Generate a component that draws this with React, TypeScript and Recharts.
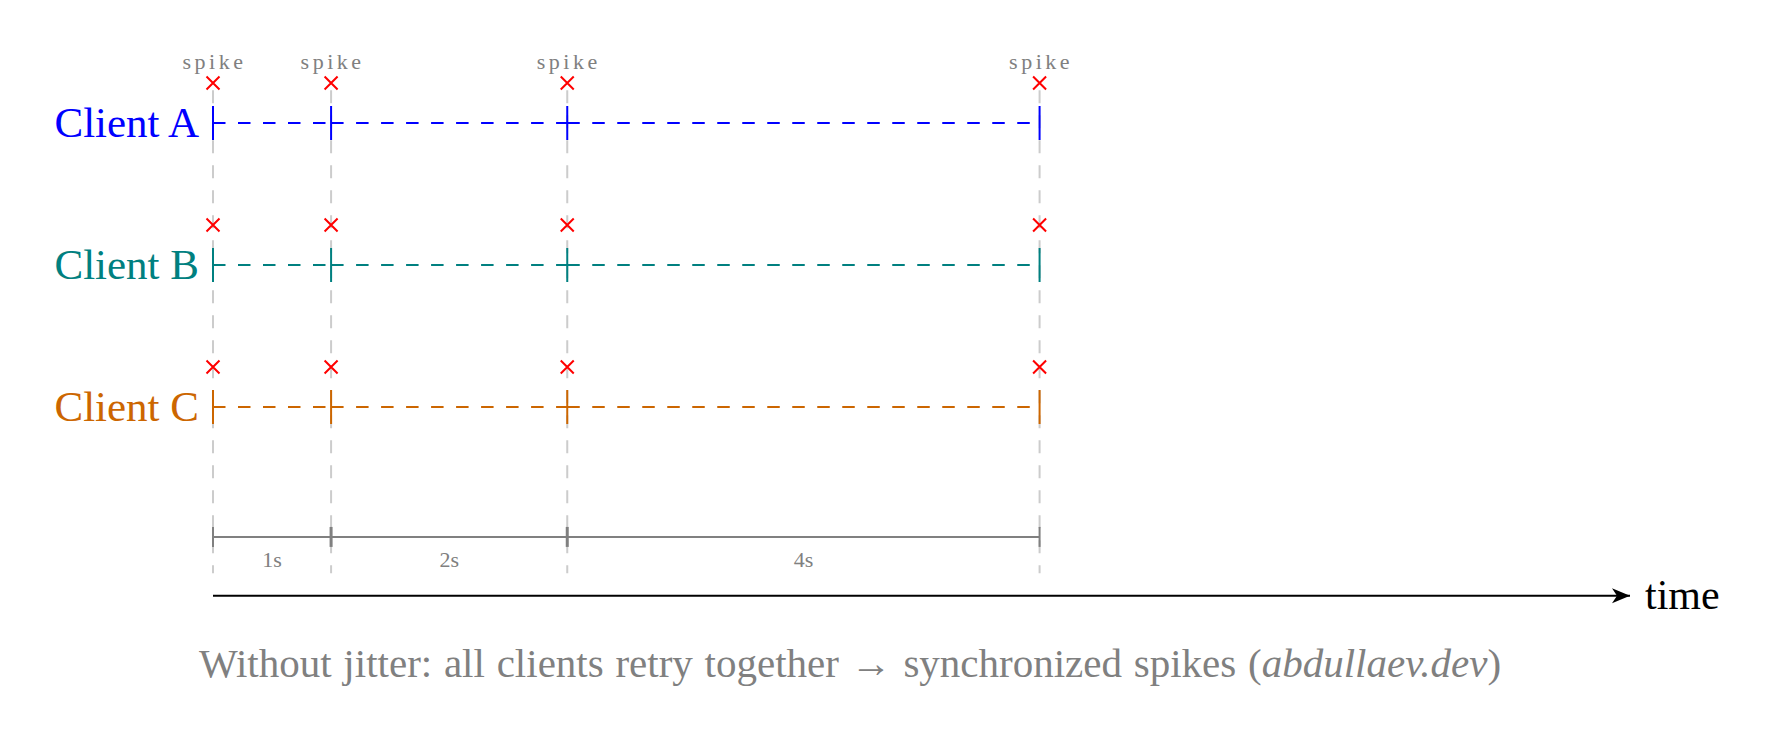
import React from 'react'
import { ComposedChart, Line, Scatter, XAxis, YAxis, ReferenceLine } from 'recharts'

// retry moments (seconds) shared by every client: no jitter
const retryTimes = [0, 1, 3, 7]
const clients = ['Client A', 'Client B', 'Client C']
const clientRows = [3, 2, 1]
const clientColors = ['#0000ff', '#008080', '#cc6600']
const spikeLabel = 'spike'
const timeLabel = 'time'
const axisEnd = 12
const caption = 'Without jitter: all clients retry together \u2192 synchronized spikes ('
const captionSite = 'abdullaev.dev'

// layout (in y-axis units)
const GUIDE_TOP = 3.23
const GUIDE_BOTTOM = -0.17
const BRACKET_Y = 0.085
const AXIS_Y = -0.33

const FONT = '"Liberation Serif", "Times New Roman", serif'
const GRAY = '#808080'

const ClientMark = (props: any) => {
    const { cx, cy, color, top } = props
    const xc = cy - 40
    return (
        <g>
            <line x1={cx} x2={cx} y1={cy - 17} y2={cy + 17} stroke={color} strokeWidth={2} />
            <path
                d={`M${cx - 6.5},${xc - 6.5}L${cx + 6.5},${xc + 6.5}M${cx + 6.5},${xc - 6.5}L${cx - 6.5},${xc + 6.5}`}
                stroke="#ff0000"
                strokeWidth={2}
                fill="none"
            />
            {top && (
                <text x={cx + 1.5} y={cy - 54} textAnchor="middle" fontFamily={FONT} fontSize={22} letterSpacing={3.5} fill={GRAY}>
                    {spikeLabel}
                </text>
            )}
        </g>
    )
}

const BracketTick = (props: any) => {
    const { cx, cy, index } = props
    const inner = index > 0 && index < retryTimes.length - 1
    return <line key={index} x1={cx} x2={cx} y1={cy - 10} y2={cy + 10} stroke={GRAY} strokeWidth={inner ? 3 : 2} />
}

const GapLabel = (props: any) => {
    const { cx, cy, payload } = props
    return (
        <text x={cx} y={cy + 30} textAnchor="middle" fontFamily={FONT} fontSize={22} fill={GRAY}>
            {payload.label}
        </text>
    )
}

const AxisArrow = (props: any) => {
    const { cx, cy, index } = props
    if (index === 0) return <g key={index} />
    return (
        <g key={index}>
            <path d={`M${cx},${cy}L${cx - 18},${cy - 7.5}L${cx - 13},${cy}L${cx - 18},${cy + 7.5}Z`} fill="#000" />
            <text x={cx + 15} y={cy + 13} fontFamily={FONT} fontSize={42} fill="#000">
                {timeLabel}
            </text>
        </g>
    )
}

const ClientTick = (props: any) => {
    const { x, y, payload } = props
    const i = clientRows.indexOf(payload.value)
    return (
        <text x={x} y={y + 14} textAnchor="end" fontFamily={FONT} fontSize={43} fill={clientColors[i]}>
            {clients[i]}
        </text>
    )
}

const gaps = retryTimes.slice(1).map((t, i) => ({
    t: (t + retryTimes[i]) / 2,
    v: BRACKET_Y,
    label: `${t - retryTimes[i]}s`,
}))

const App = () => {
    return (
        <div style={{ position: 'absolute', left: 0, top: 0, width: 1774, height: 741, background: '#fff' }}>
            <ComposedChart width={1774} height={741} margin={{ top: 52, right: 144, bottom: 121, left: 0 }}>
                <XAxis type="number" dataKey="t" domain={[0, axisEnd]} hide />
                <YAxis
                    type="number"
                    dataKey="v"
                    domain={[-0.5, 3.5]}
                    ticks={clientRows}
                    width={213}
                    axisLine={false}
                    tickLine={false}
                    tickSize={0}
                    tickMargin={14}
                    tick={ClientTick}
                />
                {retryTimes.map((t) => (
                    <ReferenceLine
                        key={`g${t}`}
                        segment={[{ x: t, y: GUIDE_TOP }, { x: t, y: GUIDE_BOTTOM }]}
                        stroke="#cccccc"
                        strokeWidth={2}
                        strokeDasharray="13 12"
                    />
                ))}
                {clients.map((c, ci) =>
                    retryTimes.slice(1).map((t, i) => (
                        <Line
                            key={`${c}-${t}`}
                            data={[{ t: retryTimes[i], v: clientRows[ci] }, { t, v: clientRows[ci] }]}
                            dataKey="v"
                            stroke={clientColors[ci]}
                            strokeWidth={2}
                            strokeDasharray="12.5 12.5"
                            dot={false}
                            activeDot={false}
                            isAnimationActive={false}
                        />
                    ))
                )}
                {clients.map((c, ci) => (
                    <Scatter
                        key={`m-${c}`}
                        data={retryTimes.map((t) => ({ t, v: clientRows[ci] }))}
                        shape={(p: any) => <ClientMark {...p} color={clientColors[ci]} top={ci === 0} />}
                        isAnimationActive={false}
                    />
                ))}
                <Line
                    data={retryTimes.map((t) => ({ t, v: BRACKET_Y }))}
                    dataKey="v"
                    stroke={GRAY}
                    strokeWidth={2}
                    dot={BracketTick}
                    activeDot={false}
                    isAnimationActive={false}
                />
                <Scatter data={gaps} shape={GapLabel} isAnimationActive={false} />
                <Line
                    data={[{ t: 0, v: AXIS_Y }, { t: axisEnd, v: AXIS_Y }]}
                    dataKey="v"
                    stroke="#000"
                    strokeWidth={2}
                    dot={AxisArrow}
                    activeDot={false}
                    isAnimationActive={false}
                />
            </ComposedChart>
            <div
                style={{
                    position: 'absolute',
                    left: 0,
                    top: 643,
                    width: 1700,
                    textAlign: 'center',
                    fontFamily: FONT,
                    fontSize: 41,
                    wordSpacing: 1.5,
                    lineHeight: 1,
                    color: GRAY,
                    whiteSpace: 'nowrap',
                }}
            >
                {caption}
                <i>{captionSite}</i>)
            </div>
        </div>
    )
}

export default App
